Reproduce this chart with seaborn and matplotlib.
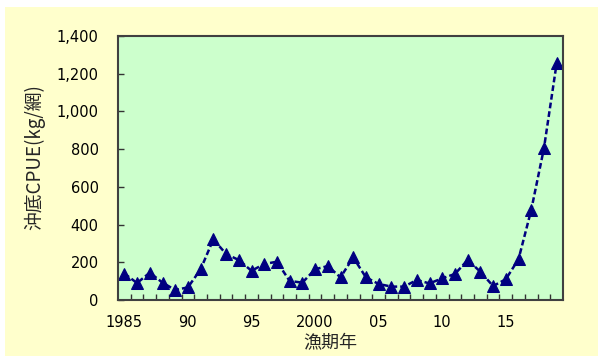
import matplotlib
matplotlib.use("Agg")
import matplotlib.pyplot as plt
import matplotlib.patches as mpatches
from matplotlib.ticker import FuncFormatter, FixedLocator
import seaborn as sns
import pandas as pd

years = list(range(1985, 2020))
cpue = [140, 90, 145, 92, 53, 67, 163, 322, 244, 212, 155, 191, 203, 101, 92,
        163, 180, 120, 226, 120, 85, 71, 71, 106, 88, 115, 138, 212, 150, 74,
        110, 216, 477, 804, 1255]
xtick_pos = [1985, 1990, 1995, 2000, 2005, 2010, 2015]
xtick_labels = ["1985", "90", "95", "2000", "05", "10", "15"]
ylabel = "沖底CPUE(kg/網)"
xlabel = "漁期年"

df = pd.DataFrame({"year": years, "cpue": cpue})

sns.set_theme(style="white")
plt.rcParams['font.family'] = ['DejaVu Sans', 'Noto Sans CJK JP']

W, H = 598, 356
fig = plt.figure(figsize=(W / 100, H / 100), dpi=100)
fig.patch.set_facecolor("white")
bg = mpatches.Rectangle((5 / W, 0), 1 - 5 / W, (H - 7) / H,
                        transform=fig.transFigure,
                        facecolor="#FFFFCC", edgecolor="none", zorder=-10)
fig.patches.append(bg)

ax = fig.add_axes([118 / W, 56 / H, 445 / W, 264 / H])
ax.set_zorder(5)
ax.set_facecolor("#CCFFCC")

sns.lineplot(data=df, x="year", y="cpue", ax=ax, color="#000080",
             marker="^", markersize=8.5, markeredgecolor="#000080",
             markerfacecolor="#000080", linewidth=1.8, linestyle=(0, (2.3, 1.2)))

ax.set_xlim(1984.5, 2019.5)
ax.set_ylim(0, 1400)
ax.set_yticks(range(0, 1401, 200))
ax.yaxis.set_major_formatter(FuncFormatter(lambda v, p: f"{int(v):,}"))
ax.set_xticks(xtick_pos)
ax.set_xticklabels(xtick_labels)
ax.xaxis.set_minor_locator(FixedLocator([1984.5 + k for k in range(1, 35)]))

ax.tick_params(axis="x", which="major", length=0, pad=11, labelsize=10.5,
               colors="#000000")
ax.tick_params(axis="x", which="minor", direction="in", length=4, width=1,
               color="#333333", bottom=True)
ax.tick_params(axis="y", which="major", direction="in", length=4, width=1,
               color="#333333", pad=14, labelsize=10.5, left=True,
               labelcolor="#000000")

for s in ax.spines.values():
    s.set_color("#404040")
    s.set_linewidth(1.5)

ax.set_xlabel("")
ax.set_ylabel("")
fig.text(330 / W, 1 - 343 / H, xlabel, ha="center", va="center", fontsize=13,
         family=['Noto Sans CJK JP'])
fig.text(35 / W, 1 - 157 / H, ylabel, ha="center", va="center", fontsize=13.5,
         rotation=90, family=['Noto Sans CJK JP'])

fig.savefig("out.png", dpi=100)
